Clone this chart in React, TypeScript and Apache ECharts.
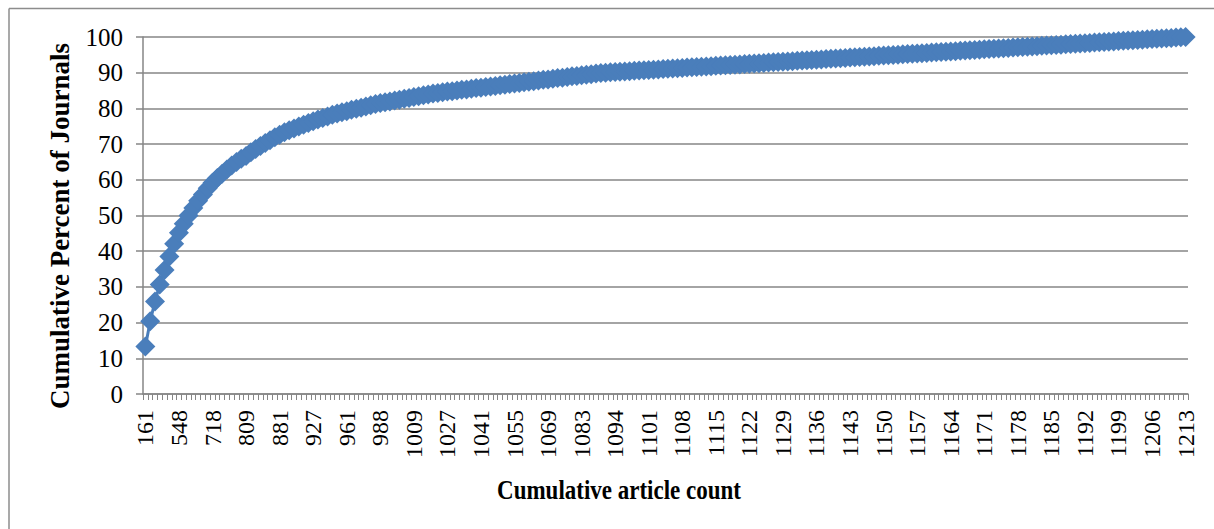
import React, { useEffect, useRef } from "react";
import * as echarts from "echarts";

const categories: string[] = [
  "161","247","314","372","421","467","511","548",
  "578","606","632","656","678","699","718",
  "734","749","763","776","788","799","809",
  "821","832","843","853","863","872","881",
  "889","896","903","909","915","921","927",
  "933","938","943","948","953","957","961",
  "965","969","973","977","981","985","988",
  "991","994","997","1000","1003","1006","1009",
  "1012","1015","1018","1021","1023","1025","1027",
  "1029","1031","1033","1035","1037","1039","1041",
  "1043","1045","1047","1049","1051","1053","1055",
  "1057","1059","1061","1063","1065","1067","1069",
  "1071","1073","1075","1077","1079","1081","1083",
  "1085","1087","1089","1091","1092","1093","1094",
  "1095","1096","1097","1098","1099","1100","1101",
  "1102","1103","1104","1105","1106","1107","1108",
  "1109","1110","1111","1112","1113","1114","1115",
  "1116","1117","1118","1119","1120","1121","1122",
  "1123","1124","1125","1126","1127","1128","1129",
  "1130","1131","1132","1133","1134","1135","1136",
  "1137","1138","1139","1140","1141","1142","1143",
  "1144","1145","1146","1147","1148","1149","1150",
  "1151","1152","1153","1154","1155","1156","1157",
  "1158","1159","1160","1161","1162","1163","1164",
  "1165","1166","1167","1168","1169","1170","1171",
  "1172","1173","1174","1175","1176","1177","1178",
  "1179","1180","1181","1182","1183","1184","1185",
  "1186","1187","1188","1189","1190","1191","1192",
  "1193","1194","1195","1196","1197","1198","1199",
  "1200","1201","1202","1203","1204","1205","1206",
  "1207","1208","1209","1210","1211","1212","1213",
];

const cumulativePercent: number[] = [
  13.3, 20.4, 25.9, 30.7, 34.7, 38.5, 42.1, 45.2,
  47.7, 50.0, 52.1, 54.1, 55.9, 57.6, 59.2,
  60.5, 61.7, 62.9, 64.0, 65.0, 65.9, 66.7,
  67.7, 68.6, 69.5, 70.3, 71.1, 71.9, 72.6,
  73.3, 73.9, 74.4, 74.9, 75.4, 75.9, 76.4,
  76.9, 77.3, 77.7, 78.2, 78.6, 78.9, 79.2,
  79.6, 79.9, 80.2, 80.5, 80.9, 81.2, 81.5,
  81.7, 81.9, 82.2, 82.4, 82.7, 82.9, 83.2,
  83.4, 83.7, 83.9, 84.2, 84.3, 84.5, 84.7,
  84.8, 85.0, 85.2, 85.3, 85.5, 85.7, 85.8,
  86.0, 86.1, 86.3, 86.5, 86.6, 86.8, 87.0,
  87.1, 87.3, 87.5, 87.6, 87.8, 88.0, 88.1,
  88.3, 88.5, 88.6, 88.8, 89.0, 89.1, 89.3,
  89.4, 89.6, 89.8, 89.9, 90.0, 90.1, 90.2,
  90.27, 90.35, 90.44, 90.52, 90.60, 90.68, 90.77,
  90.85, 90.93, 91.01, 91.10, 91.18, 91.26, 91.34,
  91.43, 91.51, 91.59, 91.67, 91.76, 91.84, 91.92,
  92.00, 92.09, 92.17, 92.25, 92.33, 92.42, 92.50,
  92.58, 92.66, 92.75, 92.83, 92.91, 92.99, 93.08,
  93.16, 93.24, 93.32, 93.41, 93.49, 93.57, 93.65,
  93.73, 93.82, 93.90, 93.98, 94.06, 94.15, 94.23,
  94.31, 94.39, 94.48, 94.56, 94.64, 94.72, 94.81,
  94.89, 94.97, 95.05, 95.14, 95.22, 95.30, 95.38,
  95.47, 95.55, 95.63, 95.71, 95.80, 95.88, 95.96,
  96.04, 96.13, 96.21, 96.29, 96.37, 96.46, 96.54,
  96.62, 96.70, 96.79, 96.87, 96.95, 97.03, 97.11,
  97.20, 97.28, 97.36, 97.44, 97.53, 97.61, 97.69,
  97.77, 97.86, 97.94, 98.02, 98.10, 98.19, 98.27,
  98.35, 98.43, 98.52, 98.60, 98.68, 98.76, 98.85,
  98.93, 99.01, 99.09, 99.18, 99.26, 99.34, 99.42,
  99.51, 99.59, 99.67, 99.75, 99.84, 99.92, 100,
];

const xTitle = "Cumulative article count";
const yTitle = "Cumulative Percent of Journals";

const FONT = "Liberation Serif";
const GRID_GRAY = "#868686";
const BLUE = "#4a7ebb";

export default function App() {
  const ref = useRef<HTMLDivElement>(null);

  useEffect(() => {
    if (!ref.current) return;
    const chart = echarts.init(ref.current, null, { renderer: "svg" });
    chart.setOption({
      animation: false,
      backgroundColor: "#ffffff",
      textStyle: { fontFamily: FONT },
      grid: { left: 143, right: 26, top: 37, bottom: 135, containLabel: false },
      xAxis: {
        type: "category",
        data: categories,
        boundaryGap: true,
        axisLine: { show: true, lineStyle: { color: GRID_GRAY, width: 1.5 } },
        axisTick: { show: true, interval: 0, length: 6, lineStyle: { color: GRID_GRAY, width: 1 } },
        axisLabel: {
          interval: 6,
          rotate: 90,
          margin: 16,
          color: "#000",
          fontFamily: FONT,
          fontSize: 24,
          hideOverlap: false,
        },
        splitLine: { show: false },
      },
      yAxis: {
        type: "value",
        min: 0,
        max: 100,
        interval: 10,
        axisLine: { show: true, lineStyle: { color: GRID_GRAY, width: 1.5 } },
        axisTick: { show: true, length: 7, lineStyle: { color: GRID_GRAY, width: 1.5 } },
        axisLabel: { margin: 20, color: "#000", fontFamily: FONT, fontSize: 25 },
        splitLine: { show: true, lineStyle: { color: GRID_GRAY, width: 1.5 } },
      },
      series: [
        {
          type: "line",
          data: cumulativePercent,
          symbol: "diamond",
          symbolSize: 20,
          showAllSymbol: true,
          lineStyle: { color: BLUE, width: 3 },
          itemStyle: { color: BLUE, borderWidth: 0 },
        },
      ],
      graphic: [
        {
          type: "line",
          shape: { x1: 9, y1: 8.5, x2: 1214, y2: 8.5 },
          style: { stroke: "#8c8c8c", lineWidth: 1.5 },
        },
        {
          type: "line",
          shape: { x1: 9, y1: 8.5, x2: 9, y2: 529 },
          style: { stroke: "#8c8c8c", lineWidth: 1.5 },
        },
        {
          type: "text",
          x: 619,
          y: 489,
          scaleY: 1.2,
          style: {
            text: xTitle,
            fontFamily: FONT,
            fontWeight: "bold",
            fontSize: 23,
            fill: "#000",
            textAlign: "center",
            textVerticalAlign: "middle",
          },
        },
        {
          type: "text",
          x: 60,
          y: 226,
          rotation: Math.PI / 2,
          style: {
            text: yTitle,
            fontFamily: FONT,
            fontWeight: "bold",
            fontSize: 27,
            fill: "#000",
            textAlign: "center",
            textVerticalAlign: "middle",
          },
        },
      ],
    });
    return () => chart.dispose();
  }, []);

  return (
    <div
      ref={ref}
      style={{ position: "absolute", left: 0, top: 0, width: 1214, height: 529 }}
    />
  );
}
